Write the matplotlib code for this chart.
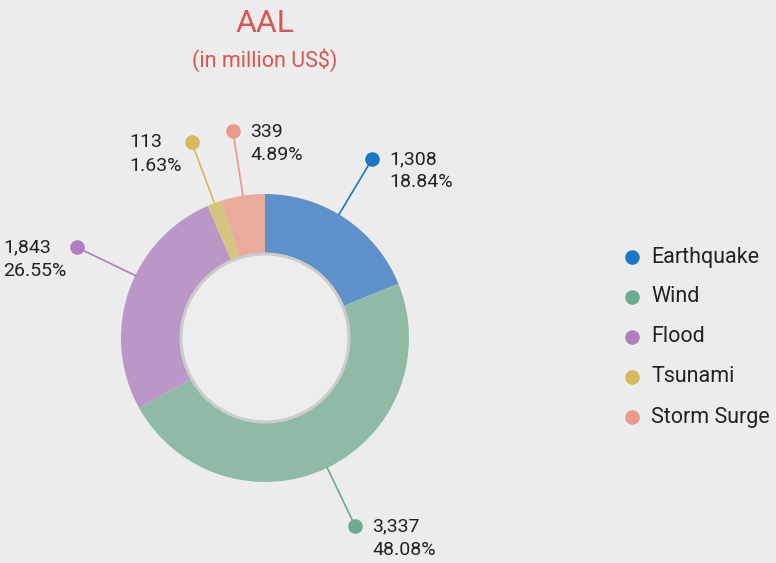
import numpy as np
import matplotlib
matplotlib.use("Agg")
from matplotlib import pyplot as plt
from matplotlib.patches import Circle

plt.rcParams["font.family"] = ["Roboto", "DejaVu Sans"]

# annual average loss per peril
perils = ["Earthquake", "Wind", "Flood", "Tsunami", "Storm Surge"]
aal_values = [1308, 3337, 1843, 113, 339]
aal_shares = [18.84, 48.08, 26.55, 1.63, 4.89]

wedge_colors = ["#5e90c9", "#8fbba6", "#bb97c8", "#d6c47c", "#e9ab9b"]
dot_colors = ["#1c78c2", "#6aab91", "#b27cc0", "#d3ba5c", "#ea9a8a"]

BG = "#ececec"
TEXT = "#222222"
W, H = 776, 563

fig = plt.figure(figsize=(W / 100, H / 100), dpi=100, facecolor=BG)
ax = fig.add_axes([0, 0, 1, 1])
ax.axis("off")

cx, cy = 265, H - 338
r_out, r_in = 144, 84

wedges, _ = ax.pie(
    aal_shares,
    colors=wedge_colors,
    startangle=90,
    counterclock=False,
    center=(cx, cy),
    radius=r_out,
    wedgeprops=dict(width=r_out - r_in, linewidth=0),
)
ax.set_xlim(0, W)
ax.set_ylim(0, H)
ax.set_aspect("equal")

# hole with a thin grey rim
ax.add_patch(Circle((cx, cy), r_in, facecolor="#ededed", edgecolor="#cccccc", lw=2.2, zorder=3))

# leader lines with value / share labels
angle_nudge = {"Earthquake": 3, "Flood": -7}
r_dot = 209
for w, name, val, pct, col in zip(wedges, perils, aal_values, aal_shares, dot_colors):
    ang = np.deg2rad((w.theta1 + w.theta2) / 2 + angle_nudge.get(name, 0))
    x0, y0 = cx + r_out * np.cos(ang), cy + r_out * np.sin(ang)
    x1, y1 = cx + r_dot * np.cos(ang), cy + r_dot * np.sin(ang)
    ax.plot([x0, x1], [y0, y1], color=col, lw=1.2, zorder=4)
    ax.scatter([x1], [y1], s=110, color=col, zorder=5, linewidths=0)
    label = f"{val:,}\n{pct:.2f}%"
    if x1 < cx - 50:
        ax.text(x1 - 10, y1 - 12, label, ha="right", va="center", multialignment="left",
                fontsize=14, color=TEXT, linespacing=1.4)
    else:
        ax.text(x1 + 17, y1 - 12, label, ha="left", va="center", multialignment="left",
                fontsize=14, color=TEXT, linespacing=1.4)

# title
ax.text(cx, H - 24, "AAL", ha="center", va="center", fontsize=23, color="#d95652")
ax.text(cx, H - 60, "(in million US$)", ha="center", va="center", fontsize=15.5, color="#d95652")

# legend
for i, (name, col) in enumerate(zip(perils, dot_colors)):
    ly = H - (257 + 40 * i)
    ax.scatter([632], [ly], s=110, color=col, linewidths=0)
    ax.text(651, ly, name, ha="left", va="center", fontsize=15.5, color=TEXT)

fig.savefig("out.png", dpi=100, facecolor=BG)
